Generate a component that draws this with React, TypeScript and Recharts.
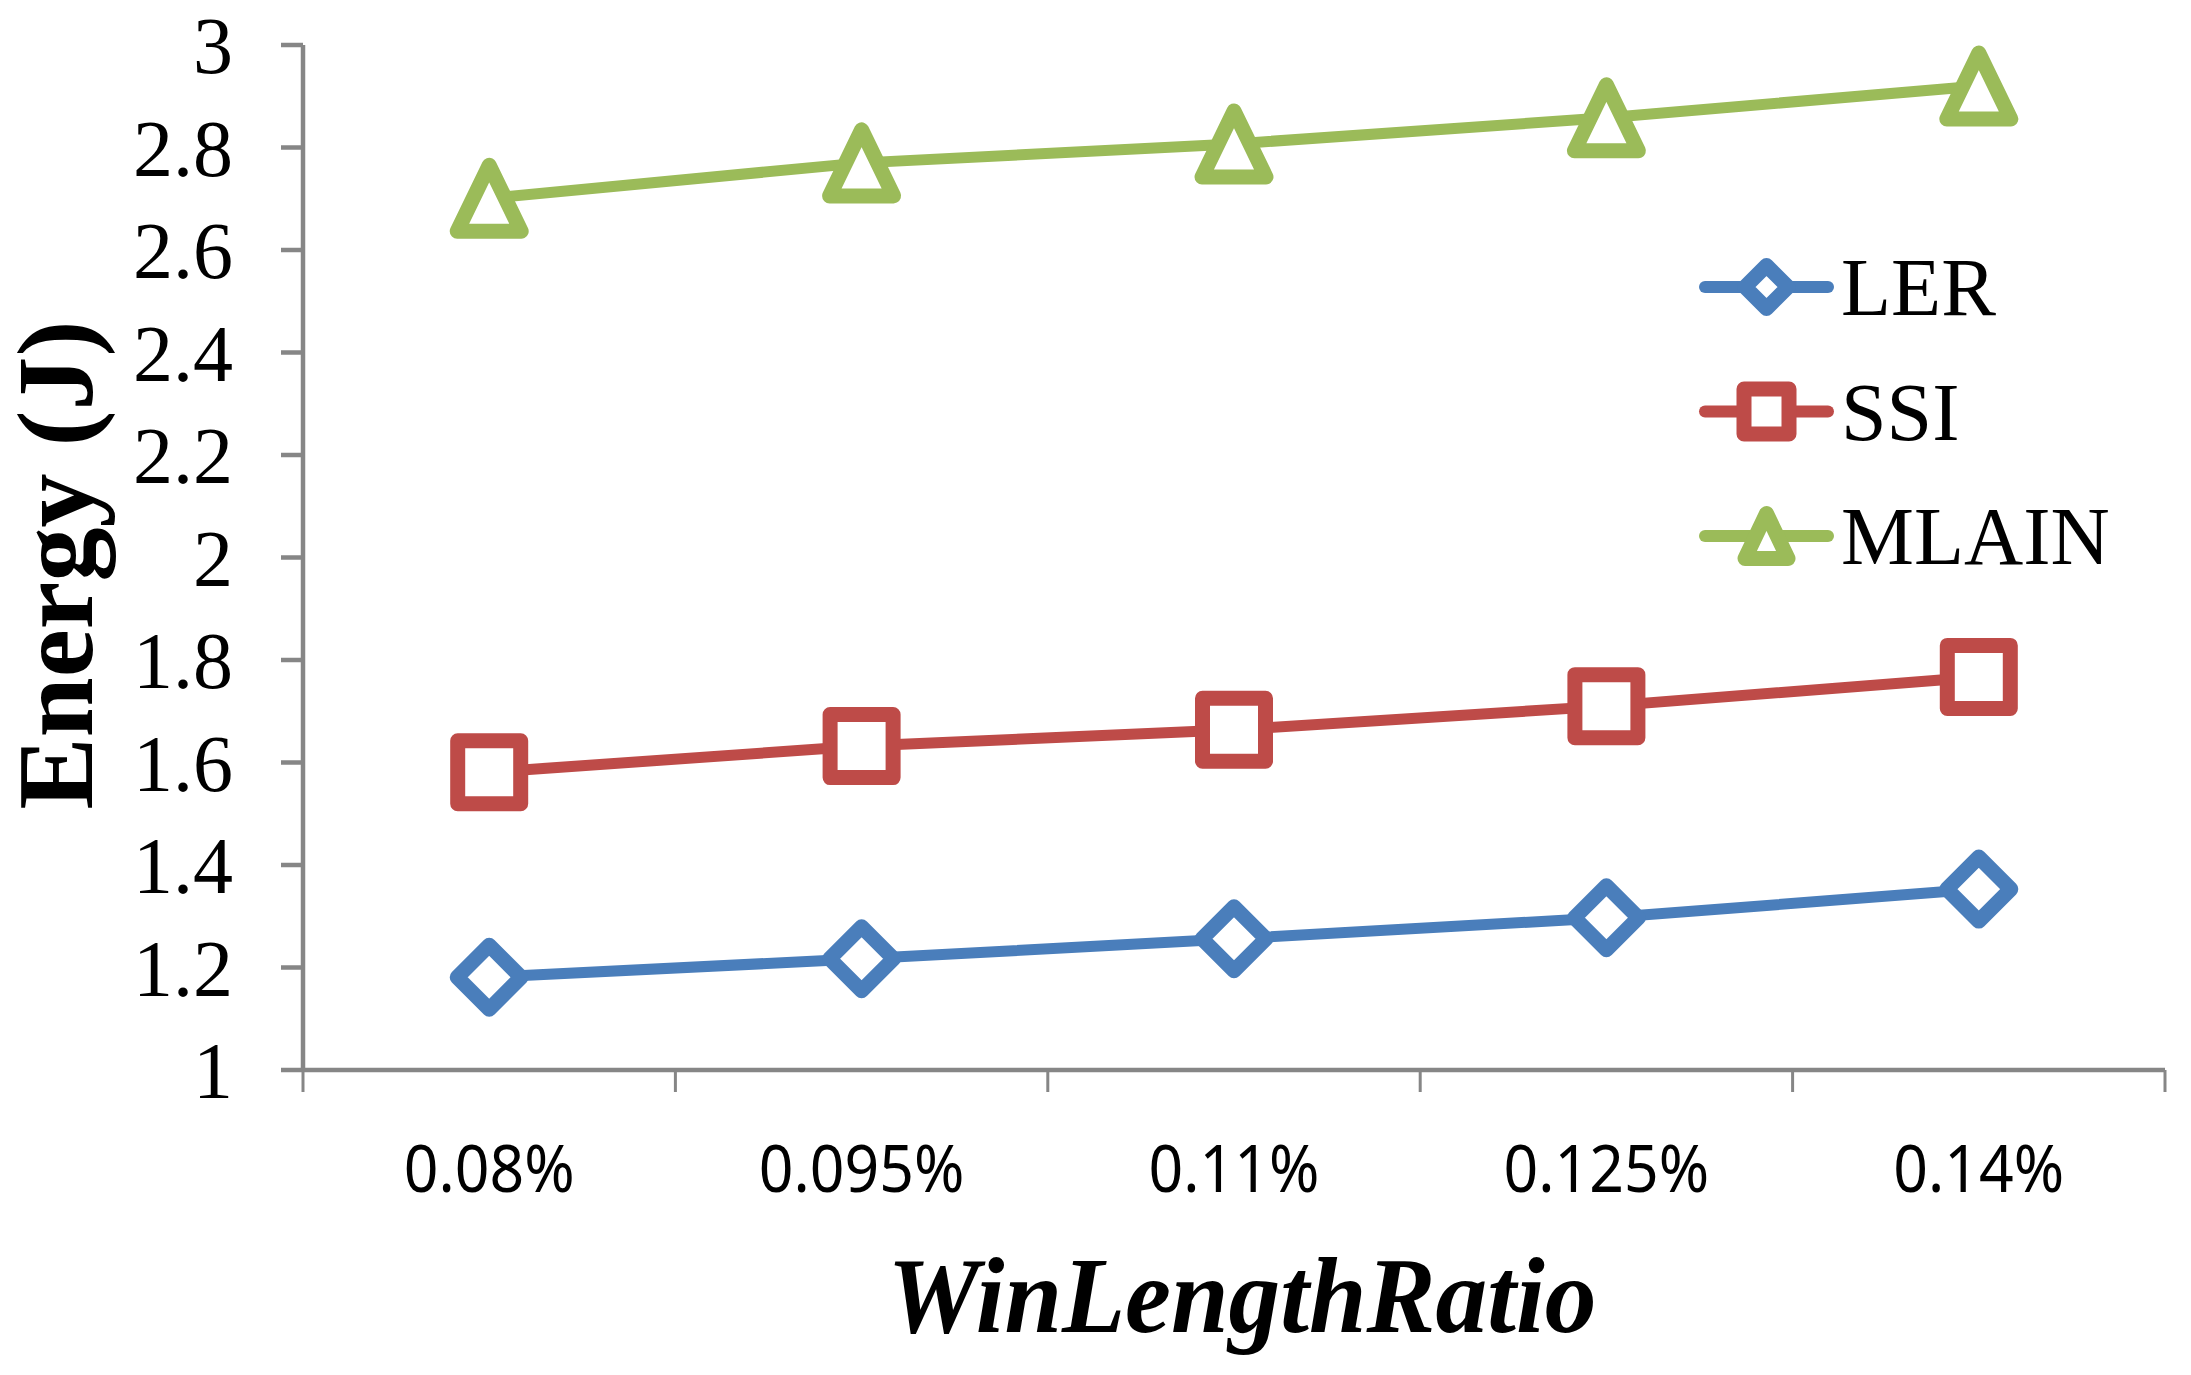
import { LineChart, Line, XAxis, YAxis, Legend } from "recharts";

const ratios = ["0.08%", "0.095%", "0.11%", "0.125%", "0.14%"];
const ler = [1.181, 1.217, 1.256, 1.297, 1.353];
const ssi = [1.581, 1.632, 1.664, 1.71, 1.767];
const mlain = [2.701, 2.77, 2.807, 2.858, 2.92];
const yTicks = [1, 1.2, 1.4, 1.6, 1.8, 2, 2.2, 2.4, 2.6, 2.8, 3];
const seriesNames = ["LER", "SSI", "MLAIN"];

const data = ratios.map((ratio, i) => ({
  ratio,
  LER: ler[i],
  SSI: ssi[i],
  MLAIN: mlain[i],
}));

const GRAY = "#868686";
const SERIF = "'Liberation Serif', 'Times New Roman', serif";
const SANS = "'Noto Sans', 'Open Sans', sans-serif";

const COLORS: Record<string, string> = {
  LER: "#4A7EBB",
  SSI: "#BE4B48",
  MLAIN: "#9BBB59",
};

type Shape = "diamond" | "square" | "triangle";
const SHAPES: Record<string, Shape> = {
  LER: "diamond",
  SSI: "square",
  MLAIN: "triangle",
};

const markerPath = (shape: Shape, cx: number, cy: number, r: number) => {
  if (shape === "diamond") {
    return `M${cx},${cy - r}L${cx + r},${cy}L${cx},${cy + r}L${cx - r},${cy}Z`;
  }
  if (shape === "square") {
    return `M${cx - r},${cy - r}H${cx + r}V${cy + r}H${cx - r}Z`;
  }
  return `M${cx},${cy - r - 1}L${cx + r},${cy + r + 1}H${cx - r}Z`;
};

const makeDot = (name: string) => (props: any) => {
  const { cx, cy, index } = props;
  const shape = SHAPES[name];
  const r = shape === "square" ? 31.5 : 32;
  return (
    <path
      key={`${name}-${index}`}
      d={markerPath(shape, cx, cy, r)}
      fill="#fff"
      stroke={COLORS[name]}
      strokeWidth={15}
      strokeLinejoin="round"
    />
  );
};

// category label plus Excel-style tick marks between categories
const CatTick = (props: any) => {
  const { x, y, payload, visibleTicksCount } = props;
  const half = payload.offset ?? 0;
  const isLast = payload.index === visibleTicksCount - 1;
  return (
    <g>
      <line
        x1={x - half}
        x2={x - half}
        y1={y}
        y2={y + 22}
        stroke={GRAY}
        strokeWidth={3}
      />
      {isLast && (
        <line
          x1={x + half}
          x2={x + half}
          y1={y}
          y2={y + 22}
          stroke={GRAY}
          strokeWidth={3}
        />
      )}
      <text
        transform={`translate(${x},${y + 122}) scale(0.92,1)`}
        textAnchor="middle"
        fontFamily={SANS}
        fontSize={66}
        fill="#000"
      >
        {payload.value}
      </text>
    </g>
  );
};

const LegendBox = (props: any) => {
  const items = [...(props.payload ?? [])].sort(
    (a: any, b: any) =>
      seriesNames.indexOf(String(a.dataKey)) -
      seriesNames.indexOf(String(b.dataKey))
  );
  return (
    <svg width={480} height={400} style={{ display: "block" }}>
      {items.map((item: any, i: number) => {
        const name = String(item.dataKey);
        const cy = 69 + i * 124.5;
        const color = COLORS[name];
        const shape = SHAPES[name];
        const r = shape === "square" ? 22.5 : 21.5;
        return (
          <g key={name}>
            <line
              x1={7}
              x2={130}
              y1={cy}
              y2={cy}
              stroke={color}
              strokeWidth={12}
              strokeLinecap="round"
            />
            <path
              d={markerPath(shape, 68.5, cy, r)}
              fill="#fff"
              stroke={color}
              strokeWidth={15}
              strokeLinejoin="round"
            />
            <text
              x={143}
              y={cy + 28}
              fontFamily={SERIF}
              fontSize={82}
              fill="#000"
            >
              {item.value}
            </text>
          </g>
        );
      })}
    </svg>
  );
};

export default function App() {
  return (
    <LineChart
      width={2175}
      height={1359}
      data={data}
      margin={{ top: 37, right: 18, left: 0, bottom: 0 }}
    >
      <XAxis
        xAxisId="cat"
        dataKey="ratio"
        scale="band"
        height={297}
        axisLine={{ stroke: GRAY, strokeWidth: 4.5 }}
        tickLine={false}
        tickSize={0}
        tickMargin={0}
        interval={0}
        tick={CatTick}
        label={{
          content: () => (
            <text
              x={1234}
              y={1324}
              textAnchor="middle"
              fontFamily={SERIF}
              fontWeight="bold"
              fontStyle="italic"
              fontSize={109}
              textLength={709}
              lengthAdjust="spacingAndGlyphs"
              fill="#000"
            >
              WinLengthRatio
            </text>
          ),
        }}
      />
      <XAxis
        xAxisId="top"
        orientation="top"
        type="number"
        domain={[0, 5]}
        height={0}
        tick={false}
        tickLine={false}
        axisLine={{ stroke: GRAY, strokeWidth: 4.5 }}
      />
      <YAxis
        yAxisId="e"
        type="number"
        domain={[1, 3]}
        ticks={yTicks}
        interval={0}
        width={295}
        tickSize={22}
        tickMargin={48}
        axisLine={{ stroke: GRAY, strokeWidth: 4.5 }}
        tickLine={{ stroke: GRAY, strokeWidth: 4.5 }}
        tick={{ fontFamily: SERIF, fontSize: 80, fill: "#000" }}
        label={{
          content: () => (
            <text
              transform="translate(84,557) rotate(-90)"
              textAnchor="middle"
              fontFamily={SERIF}
              fontWeight="bold"
              fontSize={108}
              fill="#000"
            >
              Energy (J)
            </text>
          ),
        }}
      />
      <YAxis
        yAxisId="right"
        orientation="right"
        type="number"
        domain={[1, 3]}
        width={0}
        tick={false}
        tickLine={false}
        axisLine={{ stroke: GRAY, strokeWidth: 4.5 }}
      />
      {seriesNames.map((name) => (
        <Line
          key={name}
          xAxisId="cat"
          yAxisId="e"
          type="linear"
          dataKey={name}
          stroke={COLORS[name]}
          strokeWidth={11}
          strokeLinecap="round"
          dot={makeDot(name)}
          activeDot={false}
          isAnimationActive={false}
        />
      ))}
      <Legend
        layout="vertical"
        align="center"
        verticalAlign="middle"
        content={LegendBox}
        wrapperStyle={{ left: 1690, top: 210, width: 480, height: 400 }}
      />
    </LineChart>
  );
}
